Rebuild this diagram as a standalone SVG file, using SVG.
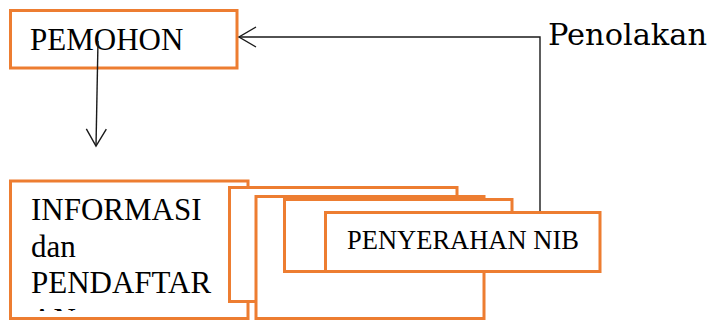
<svg xmlns="http://www.w3.org/2000/svg" width="712" height="320" viewBox="0 0 712 320">
<style>
.box{fill:#fff;stroke:#ED7D31;stroke-width:3}
.c{fill:none;stroke:#1a1a1a;stroke-width:1.4}
</style>
<defs>
<marker id="open" markerUnits="userSpaceOnUse" markerWidth="20" markerHeight="22" viewBox="-19 -11 20 22" refX="0" refY="0" orient="auto" overflow="visible">
<path d="M-17,-10 L0,0 L-17,10" fill="none" stroke="#1a1a1a" stroke-width="1.4"/>
</marker>
<clipPath id="clipInfo"><rect x="12" y="182" width="234" height="129"/></clipPath>
</defs>
<rect width="712" height="320" fill="#fff"/>
<g id="pemohon">
<rect class="box" x="10.5" y="10.5" width="226.5" height="57.5"/>
<text x="30" y="50" font-family="Liberation Serif, serif" font-size="31" fill="#000">PEMOHON</text>
</g>
<g id="informasi" font-family="Liberation Serif, serif" font-size="31" fill="#000">
<rect class="box" x="10.5" y="181" width="237.5" height="137.5"/>
<g clip-path="url(#clipInfo)">
<text x="31" y="220">INFORMASI</text>
<text x="31" y="256.5">dan</text>
<text x="31" y="293">PENDAFTAR</text>
<text x="31" y="329.5">AN</text>
</g>
</g>
<g id="stack2"><rect class="box" x="229.5" y="187.5" width="227.5" height="114"/></g>
<g id="stack3"><rect class="box" x="256" y="196.5" width="228" height="122"/></g>
<g id="stack4"><rect class="box" x="284.5" y="199.5" width="227.5" height="72"/></g>
<g id="penyerahan">
<rect class="box" x="325.5" y="212.5" width="274.5" height="59"/>
<text x="347" y="249" font-family="Liberation Serif, serif" font-size="26.5" fill="#000">PENYERAHAN NIB</text>
</g>
<g id="connectors">
<path class="c" d="M98,41 L96,146" marker-end="url(#open)"/>
<path class="c" d="M540,211 V37 H239" marker-end="url(#open)"/>
<text x="548" y="45" font-family="DejaVu Serif, serif" font-size="30" textLength="159" lengthAdjust="spacingAndGlyphs" fill="#000">Penolakan</text>
</g>
</svg>
